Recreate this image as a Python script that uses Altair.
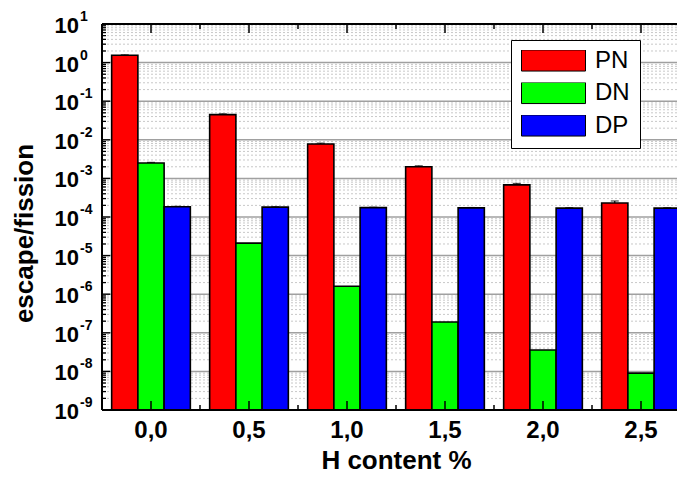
import altair as alt
import pandas as pd

# ---- data ----
categories = ["0,0", "0,5", "1,0", "1,5", "2,0", "2,5"]
series = ["PN", "DN", "DP"]
colors = ["#FF0000", "#00FF00", "#0000FF"]

pn = [1.55, 0.045, 0.0078, 0.0020, 0.00068, 0.00023]
pn_err = [0.04, 0.002, 0.0004, 0.00012, 0.00006, 0.00003]
dn = [2.5e-3, 2.1e-5, 1.6e-6, 1.9e-7, 3.6e-8, 9.0e-9]
dn_err = [0.0001, 0.0, 0.0, 0.0, 0.0, 0.0]
dp = [1.85e-4, 1.8e-4, 1.75e-4, 1.72e-4, 1.7e-4, 1.7e-4]
dp_err = [4e-6, 4e-6, 4e-6, 4e-6, 4e-6, 4e-6]

exponents = list(range(-9, 2))
y_min, y_max = 1e-9, 10.0

FONT = "Liberation Sans"
W, H = 575, 386          # visible plot area (the frame runs past the page's right edge)
XR = 588                 # full x range of the plot frame
PAD_IN = 0.197
STEP = XR / len(categories)

rows = []
for s, vals, errs in zip(series, [pn, dn, dp], [pn_err, dn_err, dp_err]):
    for c, v, e in zip(categories, vals, errs):
        rows.append({"cat": c, "series": s, "value": v, "hi": v + e, "base": y_min})
df = pd.DataFrame(rows)
err_df = df[df["hi"] > df["value"]]

major = pd.DataFrame({"v": [10.0 ** e for e in exponents],
                      "ten": ["10"] * len(exponents),
                      "exp": [str(e) for e in exponents]})
minor = pd.DataFrame({"v": [m * 10.0 ** e for e in exponents[:-1] for m in range(2, 10)]})
cats_df = pd.DataFrame({"cat": categories})

yscale = alt.Scale(type="log", domain=[y_min, y_max], nice=False)
xscale = alt.Scale(domain=categories, range=[0, XR], paddingInner=PAD_IN, paddingOuter=PAD_IN / 2)
offscale = alt.Scale(domain=series, paddingInner=0, paddingOuter=0)

xaxis = alt.Axis(title="H content %", labelAngle=0, labelFont=FONT, labelFontSize=24,
                 labelFontWeight="bold", labelColor="black", labelPadding=8,
                 ticks=False, domain=False, grid=False,
                 titleFont=FONT, titleFontSize=26, titleFontWeight="bold",
                 titleColor="black", titleX=XR / 2, titleY=58, titleAlign="center",
                 titleBaseline="alphabetic")
yaxis = alt.Axis(title="escape/fission", labels=False, ticks=False, domain=False, grid=False,
                 titleFont=FONT, titleFontSize=26, titleFontWeight="bold", titleColor="black",
                 titleAngle=-90, titleX=-70, titleY=209, titleAlign="center",
                 titleBaseline="alphabetic")


def X(field="cat:N", **kw):
    return alt.X(field, scale=xscale, sort=categories, axis=xaxis, **kw)


def Y(field, **kw):
    return alt.Y(field, scale=yscale, axis=yaxis, **kw)


minor_grid = alt.Chart(minor).mark_rule(color="#c8c8c8", strokeWidth=1, strokeDash=[2, 2]).encode(
    y=Y("v:Q"))
major_grid = alt.Chart(major).mark_rule(color="#a0a0a0", strokeWidth=1.5).encode(
    y=Y("v:Q"))

bars = alt.Chart(df).mark_bar(stroke="black", strokeWidth=1.6, opacity=1).encode(
    x=X(),
    xOffset=alt.XOffset("series:N", sort=series, scale=offscale),
    y=Y("value:Q", stack=None),
    y2="base:Q",
    color=alt.Color("series:N", sort=series, scale=alt.Scale(domain=series, range=colors),
                    legend=alt.Legend(title=None, orient="none", legendX=409, legendY=16,
                                      symbolType="M-1,-0.33H1V0.33H-1Z", symbolSize=4096,
                                      symbolStrokeColor="black", symbolStrokeWidth=1,
                                      symbolOpacity=1, clipHeight=21, rowPadding=7.5,
                                      labelFont=FONT, labelFontSize=24, labelColor="black",
                                      labelOffset=9, padding=10, strokeColor="black",
                                      fillColor="white")),
)

err_rule = alt.Chart(err_df).mark_rule(color="black", strokeWidth=1.2).encode(
    x=X(),
    xOffset=alt.XOffset("series:N", sort=series, scale=offscale),
    y=Y("value:Q"),
    y2="hi:Q")
err_cap = alt.Chart(err_df).mark_tick(color="black", orient="horizontal", size=8, thickness=1.2).encode(
    x=X(),
    xOffset=alt.XOffset("series:N", sort=series, scale=offscale),
    y=Y("hi:Q"))


def xtick(pos, y0, y1, shift=0):
    enc = dict(x=X(bandPosition=pos), y=alt.value(y0), y2=alt.value(y1))
    if shift:
        enc["xOffset"] = alt.value(shift)
    return alt.Chart(cats_df).mark_rule(color="black", strokeWidth=1.5).encode(**enc)


def ytick(data, x0, x1):
    return alt.Chart(data).mark_rule(color="black", strokeWidth=1.3).encode(
        y=Y("v:Q"), x=alt.value(x0), x2=alt.value(x1))


edge_shift = -STEP * PAD_IN / 2
ticks = [
    xtick(0.5, H, H - 9), xtick(0.5, 0, 9),
    xtick(0, H, H - 5, edge_shift), xtick(0, 0, 5, edge_shift),
    ytick(major, 0, 8), ytick(minor, 0, 4), ytick(major, XR, XR - 6),
]

frame_top = alt.Chart(cats_df).mark_rule(color="black", strokeWidth=2).encode(
    y=alt.value(0), x=alt.value(0), x2=alt.value(XR))
frame_bottom = alt.Chart(cats_df).mark_rule(color="black", strokeWidth=2).encode(
    y=alt.value(H), x=alt.value(0), x2=alt.value(XR))
frame_left = alt.Chart(cats_df).mark_rule(color="black", strokeWidth=2).encode(
    x=alt.value(0), y=alt.value(0), y2=alt.value(H))

lab_ten = alt.Chart(major).mark_text(font=FONT, fontSize=22, fontWeight="bold", color="black",
                                     align="right", baseline="middle", dy=2).encode(
    y=Y("v:Q"), x=alt.value(-23), text="ten:N")
lab_exp = alt.Chart(major).mark_text(font=FONT, fontSize=14, fontWeight="bold", color="black",
                                     align="left", baseline="middle", dy=-7).encode(
    y=Y("v:Q"), x=alt.value(-22), text="exp:N")

chart = alt.layer(minor_grid, major_grid, bars, err_rule, err_cap, *ticks,
                  frame_top, frame_bottom, frame_left, lab_ten, lab_exp).properties(
    width=W, height=H, autosize="none",
    padding={"left": 94, "top": 16, "right": 0, "bottom": 63},
    background="white",
).configure_view(strokeWidth=0)

chart.save("out.html", embed_options={"renderer": "svg", "actions": False})
